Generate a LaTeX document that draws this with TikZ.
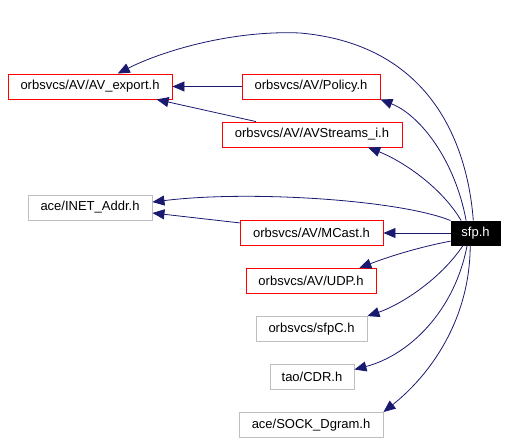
\documentclass[tikz,border=0pt]{standalone}
\usepackage{fontspec}
\setmainfont{Liberation Sans}
\usetikzlibrary{arrows.meta}
\definecolor{edgeblue}{HTML}{191970}
\definecolor{boxgray}{HTML}{BFBFBF}
\tikzset{
  file/.style={draw, line width=0.9pt, inner sep=0pt, minimum height=25pt,
    font=\fontsize{13}{15}\selectfont},
  avfile/.style={file, draw=red},
  extfile/.style={file, draw=boxgray},
  mainfile/.style={file, fill=black, text=white},
  dep/.style={edgeblue, line width=0.8pt, -{Triangle[length=12pt,width=10pt]}}
}

\begin{document}
\begin{tikzpicture}[x=1pt,y=-1pt]
\useasboundingbox (0,0) rectangle (507,443);
%\draw[step=50,gray,very thin] (0,0) grid (507,443);
\node[avfile, minimum width=164pt] (avexport) at (90,86.5) {orbsvcs/AV/AV\_export.h};
\node[avfile, minimum width=138pt] (policy) at (311,86.5) {orbsvcs/AV/Policy.h};
\node[avfile, minimum width=180pt] (avstreams) at (312,134.5) {orbsvcs/AV/AVStreams\_i.h};
\node[extfile, minimum width=124pt] (inet) at (90,207.5) {ace/INET\_Addr.h};
\node[avfile, minimum width=143pt] (mcast) at (311.5,233) {orbsvcs/AV/MCast.h};
\node[mainfile, minimum width=49pt, minimum height=24pt] (sfp) at (475.5,233) {sfp.h};
\node[avfile, minimum width=130pt] (udp) at (311,281) {orbsvcs/AV/UDP.h};
\node[extfile, minimum width=111pt] (sfpc) at (311.5,329) {orbsvcs/sfpC.h};
\node[extfile, minimum width=84pt] (cdr) at (312,377) {tao/CDR.h};
\node[extfile, minimum width=144pt] (sockdgram) at (311,425) {ace/SOCK\_Dgram.h};
% includes between the headers
\draw[dep] (policy.west) -- (avexport.east);
\draw[dep] (avstreams.167) -- (avexport.-11);
\draw[dep] (mcast.172) -- (inet.-5);
% includes of sfp.h
\draw[dep] (sfp.100) .. controls (468,150) and (435,45) .. (300,33)
  .. controls (230,30) and (160,52) .. (avexport.25);
\draw[dep] (sfp.127) .. controls (455,160) and (420,115) .. (policy.south east);
\draw[dep] (sfp.139) .. controls (440,185) and (400,160) .. (avstreams.-13);
\draw[dep] (sfp.north west) .. controls (400,200) and (250,190) .. (inet.5);
\draw[dep] (sfp.west) -- (mcast.east);
\draw[dep] (sfp.198) .. controls (415,248) and (385,258) .. (udp.15);
\draw[dep] (sfp.225) .. controls (440,280) and (400,305) .. (sfpc.north east);
\draw[dep] (sfp.236) .. controls (455,310) and (410,355) .. (cdr.10);
\draw[dep] (sfp.247) .. controls (470,320) and (430,375) .. (sockdgram.north east);
\end{tikzpicture}
\end{document}
